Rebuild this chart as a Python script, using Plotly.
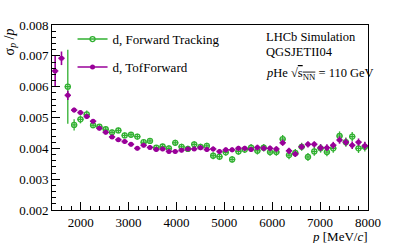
import plotly.graph_objects as go

p_centers = [1466, 1598, 1730, 1862, 1994, 2126, 2258, 2390, 2522, 2654,
             2786, 2918, 3050, 3182, 3314, 3446, 3578, 3710, 3842, 3974,
             4106, 4238, 4370, 4502, 4634, 4766, 4898, 5030, 5162, 5294,
             5426, 5558, 5690, 5822, 5954, 6086, 6218, 6350, 6482, 6614,
             6746, 6878, 7010, 7142, 7274, 7406, 7538, 7670, 7802, 7934]
bin_half = [66] * 50

tof_val = [0.00651, 0.00692, 0.00572, 0.00524, 0.00516, 0.00503, 0.00488, 0.00465, 0.00452, 0.00437,
           0.00428, 0.00422, 0.00413, 0.00400, 0.00410, 0.00403, 0.00396, 0.00398, 0.00390, 0.00390,
           0.00394, 0.00398, 0.00398, 0.00402, 0.00396, 0.00398, 0.00390, 0.00395, 0.00395, 0.00400,
           0.00400, 0.00396, 0.00403, 0.00400, 0.00400, 0.00398, 0.00418, 0.00392, 0.00382, 0.00405,
           0.00413, 0.00413, 0.00402, 0.00402, 0.00410, 0.00427, 0.00420, 0.00410, 0.00420, 0.00408]
tof_err = [0.00050, 0.00022, 0.00015, 0.00008, 0.00008, 0.00008, 0.00007, 0.00007, 0.00007, 0.00007,
           0.00007, 0.00007, 0.00007, 0.00007, 0.00007, 0.00007, 0.00007, 0.00007, 0.00007, 0.00007,
           0.00007, 0.00007, 0.00007, 0.00008, 0.00008, 0.00008, 0.00008, 0.00008, 0.00008, 0.00008,
           0.00008, 0.00008, 0.00009, 0.00009, 0.00009, 0.00009, 0.00010, 0.00010, 0.00010, 0.00010,
           0.00010, 0.00010, 0.00011, 0.00011, 0.00011, 0.00012, 0.00012, 0.00012, 0.00012, 0.00013]

fwd_p = p_centers[2:]
fwd_half = bin_half[2:]
fwd_val = [0.00600, 0.00476, 0.00494, 0.00510, 0.00475, 0.00470, 0.00462, 0.00452, 0.00458, 0.00442,
           0.00444, 0.00438, 0.00420, 0.00424, 0.00402, 0.00406, 0.00400, 0.00418, 0.00405, 0.00398,
           0.00413, 0.00405, 0.00408, 0.00376, 0.00373, 0.00387, 0.00364, 0.00390, 0.00396, 0.00402,
           0.00392, 0.00402, 0.00388, 0.00388, 0.00430, 0.00378, 0.00385, 0.00405, 0.00372, 0.00390,
           0.00400, 0.00388, 0.00400, 0.00440, 0.00420, 0.00438, 0.00400, 0.00405]
fwd_err = [0.00120, 0.00018, 0.00013, 0.00013, 0.00010, 0.00009, 0.00009, 0.00009, 0.00009, 0.00009,
           0.00009, 0.00009, 0.00009, 0.00009, 0.00009, 0.00009, 0.00010, 0.00010, 0.00010, 0.00010,
           0.00010, 0.00010, 0.00010, 0.00011, 0.00011, 0.00011, 0.00011, 0.00011, 0.00011, 0.00012,
           0.00012, 0.00012, 0.00012, 0.00012, 0.00013, 0.00013, 0.00013, 0.00013, 0.00013, 0.00014,
           0.00014, 0.00014, 0.00014, 0.00015, 0.00015, 0.00015, 0.00015, 0.00015]

x_ticks = [2000, 3000, 4000, 5000, 6000, 7000, 8000]
y_ticks = [0.002, 0.003, 0.004, 0.005, 0.006, 0.007, 0.008]

GREEN = "#30b030"
MAG = "#990099"
FONT = "Liberation Serif"

fig = go.Figure()

fig.add_trace(go.Scatter(
    x=fwd_p, y=fwd_val, mode="markers",
    marker=dict(symbol="circle-open", size=5, color=GREEN, line=dict(width=1.3, color=GREEN)),
    error_x=dict(type="data", array=fwd_half, width=0, thickness=1.3, color=GREEN),
    error_y=dict(type="data", array=fwd_err, width=0, thickness=1.3, color=GREEN),
    showlegend=False))

fig.add_trace(go.Scatter(
    x=p_centers, y=tof_val, mode="markers",
    marker=dict(symbol="circle", size=5, color=MAG),
    error_x=dict(type="data", array=bin_half, width=0, thickness=1.6, color=MAG),
    error_y=dict(type="data", array=tof_err, width=0, thickness=1.6, color=MAG),
    showlegend=False))

# legend entries
fig.add_trace(go.Scatter(x=[None], y=[None], mode="lines+markers", name="d, Forward Tracking",
                         legendgroup="a",
                         line=dict(color=GREEN, width=1.5),
                         marker=dict(symbol="circle-open", size=5, color=GREEN, line=dict(width=1.3, color=GREEN))))
fig.add_trace(go.Scatter(x=[None], y=[None], mode="lines+markers", name="d, TofForward",
                         legendgroup="b",
                         line=dict(color=MAG, width=1.5),
                         marker=dict(symbol="circle", size=5, color=MAG)))

axis_common = dict(showline=True, linecolor="black", linewidth=1, mirror=True,
                   ticks="inside", ticklen=8, tickwidth=1, tickcolor="black",
                   showgrid=False, zeroline=False,
                   tickfont=dict(family=FONT, size=13, color="black"))

fig.update_xaxes(range=[1400, 8000], tickvals=x_ticks, ticktext=[str(v) for v in x_ticks],
                 minor=dict(ticks="inside", ticklen=4, dtick=200, tick0=1400, tickcolor="black"),
                 **axis_common)
fig.update_yaxes(range=[0.002, 0.008], tickvals=y_ticks, ticktext=["%.3f" % v for v in y_ticks],
                 minor=dict(ticks="inside", ticklen=4, dtick=0.0002, tick0=0.002, tickcolor="black"),
                 **axis_common)

fig.update_layout(
    width=393, height=243,
    margin=dict(l=52, r=20, t=25, b=33),
    paper_bgcolor="white", plot_bgcolor="white",
    font=dict(family=FONT, size=13, color="black"),
    legend=dict(x=0.065, y=1.005, xanchor="left", yanchor="top",
                bgcolor="rgba(0,0,0,0)", font=dict(family=FONT, size=13),
                itemwidth=30, tracegroupgap=8),
    annotations=[
        dict(text="σ<sub><i>p</i></sub> /<i>p</i>", xref="paper", yref="paper",
             x=-0.133, y=0.995, xanchor="center", yanchor="top", textangle=-90,
             showarrow=False, font=dict(family=FONT, size=14)),
        dict(text="<i>p</i> [MeV/<i>c</i>]", xref="paper", yref="paper",
             x=1.005, y=-0.092, xanchor="right", yanchor="top",
             showarrow=False, font=dict(family=FONT, size=13)),
        dict(text="LHCb Simulation", xref="paper", yref="paper",
             x=0.67, y=0.985, xanchor="left", yanchor="top",
             showarrow=False, font=dict(family=FONT, size=12.5)),
        dict(text="QGSJETII04", xref="paper", yref="paper",
             x=0.67, y=0.905, xanchor="left", yanchor="top",
             showarrow=False, font=dict(family=FONT, size=12.5)),
        dict(text="<i>p</i>He √<span style='text-decoration:overline'>s<sub>NN</sub></span> = 110 GeV",
             xref="paper", yref="paper",
             x=0.67, y=0.79, xanchor="left", yanchor="top",
             showarrow=False, font=dict(family=FONT, size=12.5)),
    ],
)

fig.write_html("out.html", config={"displayModeBar": False},
               post_script="document.body.style.margin='0';document.body.style.overflow='hidden';")
